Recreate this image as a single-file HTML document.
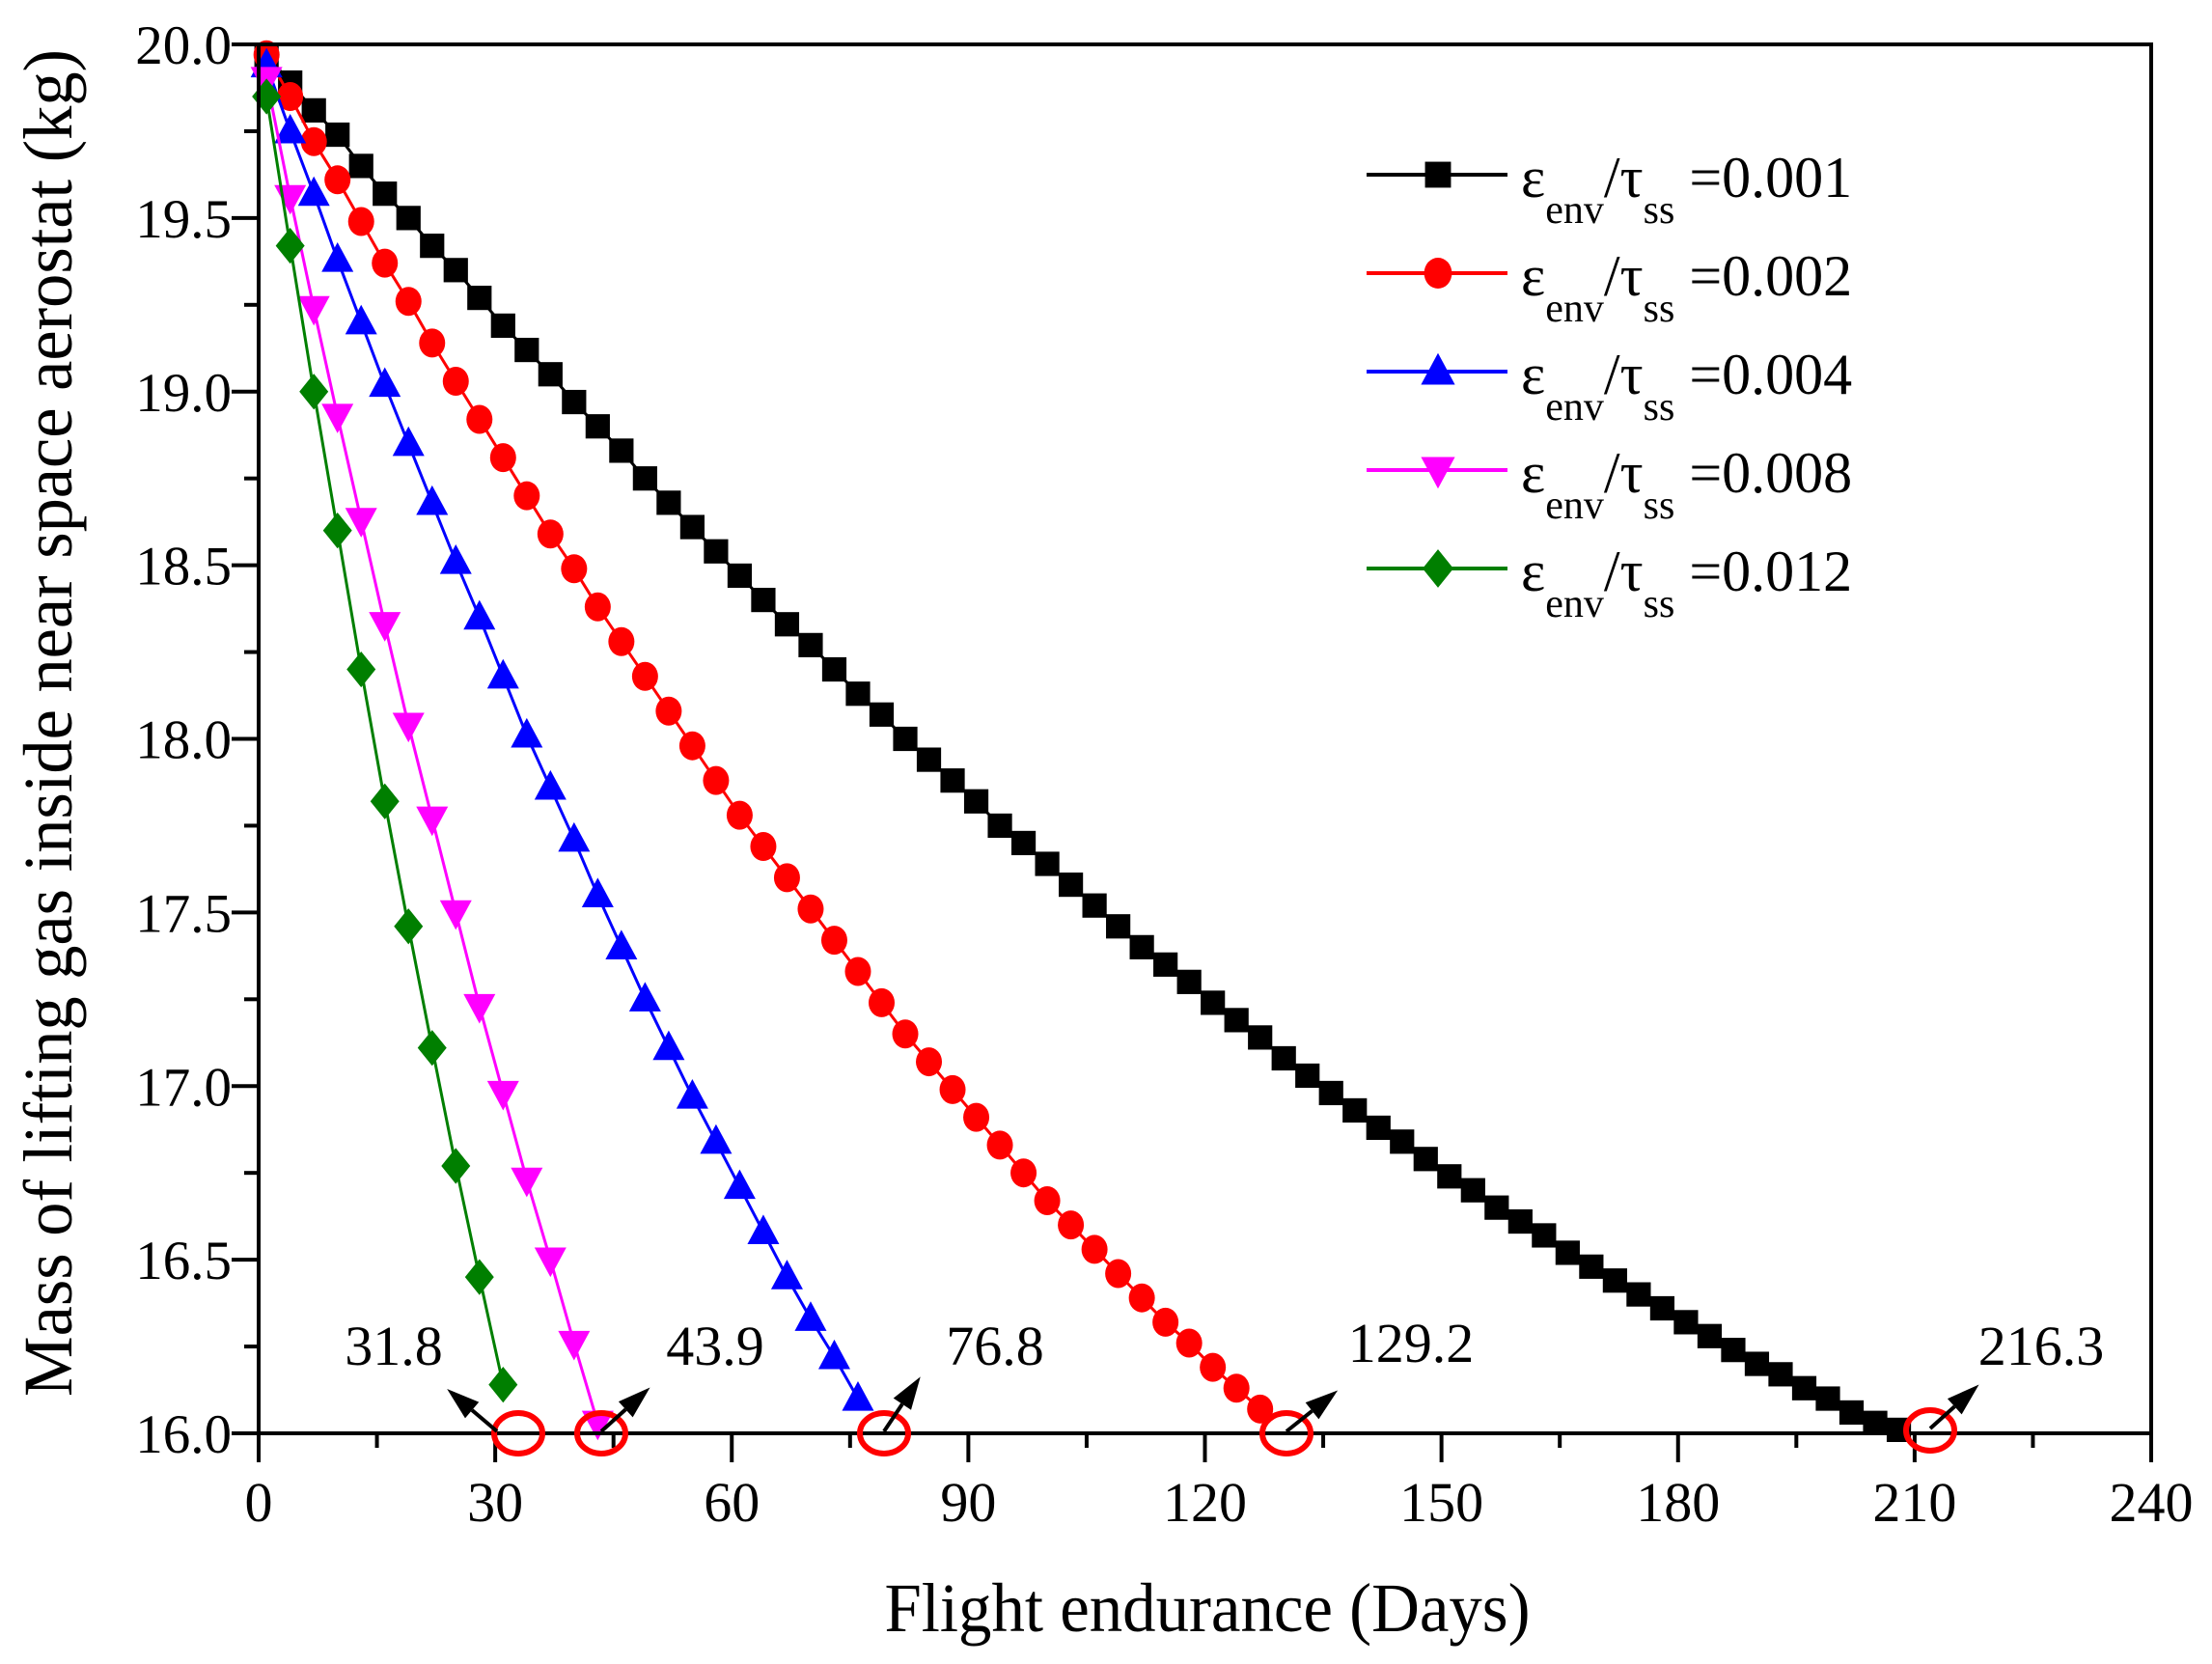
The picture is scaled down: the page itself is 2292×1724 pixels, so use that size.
<!DOCTYPE html>
<html><head><meta charset="utf-8"><style>
html,body{margin:0;padding:0;background:#fff;}
svg{display:block;font-family:"Liberation Serif",serif;}
</style></head><body>
<svg id="chart" width="2292" height="1724" viewBox="0 0 2292 1724" xmlns="http://www.w3.org/2000/svg">
<rect x="0" y="0" width="2292" height="1724" fill="#fff"/>
<g id="plot"></g>
<g id="axes"></g>
<g id="legend"></g>
<g id="annot"></g>
<text x="1251" y="1690" font-size="72" text-anchor="middle" textLength="669" lengthAdjust="spacingAndGlyphs">Flight endurance (Days)</text>
<text transform="translate(74,749) rotate(-90)" x="0" y="0" font-size="72" text-anchor="middle" textLength="1396" lengthAdjust="spacingAndGlyphs">Mass of lifting gas inside near space aerostat (kg)</text>
</svg>
<script>
const xTicks = [0,30,60,90,120,150,180,210,240];
const yTicks = [16.0,16.5,17.0,17.5,18.0,18.5,19.0,19.5,20.0];
const seriesNames = ["0.001","0.002","0.004","0.008","0.012"];
const seriesColors = ["#000000","#ff0000","#0000ff","#ff00ff","#007f00"];
const seriesMarkers = ["square","circle","triangle","invtriangle","diamond"];
const dayStart = 1;
const dayStep = 3;
const s001 = [19.97,19.89,19.81,19.74,19.65,19.57,19.50,19.42,19.35,19.27,19.19,19.12,19.05,18.97,18.90,18.83,18.75,18.68,18.61,18.54,18.47,18.40,18.33,18.27,18.20,18.13,18.07,18.00,17.94,17.88,17.82,17.75,17.70,17.64,17.58,17.52,17.46,17.40,17.35,17.30,17.24,17.19,17.14,17.08,17.03,16.98,16.93,16.88,16.84,16.79,16.74,16.70,16.65,16.61,16.57,16.52,16.48,16.44,16.40,16.36,16.32,16.28,16.24,16.20,16.17,16.13,16.10,16.06,16.03,16.01];
const s002 = [19.97,19.85,19.72,19.61,19.49,19.37,19.26,19.14,19.03,18.92,18.81,18.70,18.59,18.49,18.38,18.28,18.18,18.08,17.98,17.88,17.78,17.69,17.60,17.51,17.42,17.33,17.24,17.15,17.07,16.99,16.91,16.83,16.75,16.67,16.60,16.53,16.46,16.39,16.32,16.26,16.19,16.13,16.07];
const s004 = [19.94,19.75,19.57,19.38,19.20,19.02,18.85,18.68,18.51,18.35,18.18,18.01,17.86,17.71,17.55,17.40,17.25,17.11,16.97,16.84,16.71,16.58,16.45,16.33,16.22,16.10];
const s008 = [19.90,19.56,19.24,18.93,18.63,18.33,18.04,17.77,17.50,17.23,16.98,16.73,16.50,16.26,16.03];
const s012 = [19.85,19.42,19.00,18.60,18.20,17.82,17.46,17.11,16.77,16.45,16.14];
const endDays = [31.8,43.9,76.8,129.2,216.3];
const endLabels = ["31.8","43.9","76.8","129.2","216.3"];

const NS="http://www.w3.org/2000/svg";
const X0=268,X1=2229,Y0=1485,Y1=46;
const xs=d=>X0+(d-0)/(240-0)*(X1-X0);
const ys=v=>Y0-(v-16)/(20-16)*(Y0-Y1);
function mk(tag,attrs,parent){const e=document.createElementNS(NS,tag);for(const k in attrs)e.setAttribute(k,attrs[k]);parent.appendChild(e);return e;}
const plot=document.getElementById('plot'),axes=document.getElementById('axes'),legend=document.getElementById('legend'),annot=document.getElementById('annot');

function marker(type,cx,cy,color,parent,sz){
  let e;
  if(type==="square"){e=mk('rect',{x:cx-sz*0.42,y:cy-sz*0.42,width:sz*0.84,height:sz*0.84,fill:color},parent);}
  else if(type==="circle"){e=mk('ellipse',{cx:cx,cy:cy,rx:sz*0.45,ry:sz*0.5,fill:color},parent);}
  else if(type==="triangle"){e=mk('polygon',{points:`${cx},${cy-sz*0.6} ${cx-sz*0.55},${cy+sz*0.42} ${cx+sz*0.55},${cy+sz*0.42}`,fill:color},parent);}
  else if(type==="invtriangle"){e=mk('polygon',{points:`${cx},${cy+sz*0.6} ${cx-sz*0.55},${cy-sz*0.42} ${cx+sz*0.55},${cy-sz*0.42}`,fill:color},parent);}
  else {e=mk('polygon',{points:`${cx},${cy-sz*0.62} ${cx+sz*0.5},${cy} ${cx},${cy+sz*0.62} ${cx-sz*0.5},${cy}`,fill:color},parent);}
  return e;
}

const allSeries=[s001,s002,s004,s008,s012];
allSeries.forEach((s,i)=>{
  const g=mk('g',{},plot);
  
  
  const pts=s.map((v,j)=>xs(dayStart+j*dayStep).toFixed(1)+','+ys(v).toFixed(1)).join(' ');
  const pl=mk('polyline',{points:pts,fill:'none',stroke:seriesColors[i],'stroke-width':3},g);
  
  
  s.forEach((v,j)=>{
    const m=marker(seriesMarkers[i],xs(dayStart+j*dayStep),ys(v),seriesColors[i],g,30);
    
    
  });
});

const fr=mk('rect',{x:X0,y:Y1,width:X1-X0,height:Y0-Y1,fill:'none',stroke:'#000','stroke-width':4},axes);


xTicks.forEach((t,i)=>{
  const x=xs(t);
  const tk=mk('line',{x1:x,y1:Y0,x2:x,y2:Y0+30,stroke:'#000','stroke-width':4},axes);
  
  
  const lb=mk('text',{x:x,y:1576,'font-size':58,'text-anchor':'middle'},axes);
  lb.textContent=String(t);
  
  
  if(i<xTicks.length-1){
    const xm=xs((t+xTicks[i+1])/2);
    const mt=mk('line',{x1:xm,y1:Y0,x2:xm,y2:Y0+15,stroke:'#000','stroke-width':4},axes);
    
    
  }
});
yTicks.forEach((t,i)=>{
  const y=ys(t);
  const tk=mk('line',{x1:X0-28,y1:y,x2:X0,y2:y,stroke:'#000','stroke-width':4},axes);
  
  
  const lb=mk('text',{x:240,y:y+20,'font-size':57,'text-anchor':'end'},axes);
  lb.textContent=t.toFixed(1);
  
  
  if(i<yTicks.length-1){
    const ym=ys((t+yTicks[i+1])/2);
    const mt=mk('line',{x1:X0-15,y1:ym,x2:X0,y2:ym,stroke:'#000','stroke-width':4},axes);
    
    
  }
});

seriesNames.forEach((n,i)=>{
  const y=181+102*i;
  const g=mk('g',{},legend);
  
  
  mk('line',{x1:1416,y1:y,x2:1562,y2:y,stroke:seriesColors[i],'stroke-width':4},g);
  marker(seriesMarkers[i],1490,y,seriesColors[i],g,32);
  const t=mk('text',{x:1576,y:y+23,'font-size':60},g);
  t.innerHTML='ε<tspan font-size="42" dy="27">env</tspan><tspan dy="-27">/τ</tspan><tspan font-size="42" dy="27">ss</tspan><tspan dy="-27"> =0.'+n.slice(2)+'</tspan>';
});

const labelPos=[[408,1414],[741,1414],[1031,1414],[1462,1411],[2115,1414]];
const circX=[537,623,916,1333,2000];
const arrowDir=[[-1,-0.85],[1,-0.9],[0.7,-1.05],[1,-0.8],[1,-0.9]];
endDays.forEach((d,i)=>{
  const g=mk('g',{},annot);
  
  
  const cx=circX[i],cy=Y0-(i===4?3:0);
  const c=mk('ellipse',{cx:cx,cy:cy,rx:25,ry:21,fill:'none',stroke:'#ff0000','stroke-width':6},g);
  
  
  const [dx,dy]=arrowDir[i];
  const L=Math.hypot(dx,dy),ux=dx/L,uy=dy/L;
  const sx=cx+(i===0?-22:0),sy=cy-2;
  const tx=sx+ux*68,ty=sy+uy*68;
  const bx=tx-ux*34,by=ty-uy*34;
  mk('line',{x1:sx,y1:sy,x2:bx,y2:by,stroke:'#000','stroke-width':4},g);
  mk('polygon',{points:`${tx},${ty} ${bx-uy*11},${by+ux*11} ${bx+uy*11},${by-ux*11}`,fill:'#000'},g);
  const t=mk('text',{x:labelPos[i][0],y:labelPos[i][1],'font-size':58,'text-anchor':'middle'},g);
  t.textContent=endLabels[i];
  
  
});
</script>
</body></html>
